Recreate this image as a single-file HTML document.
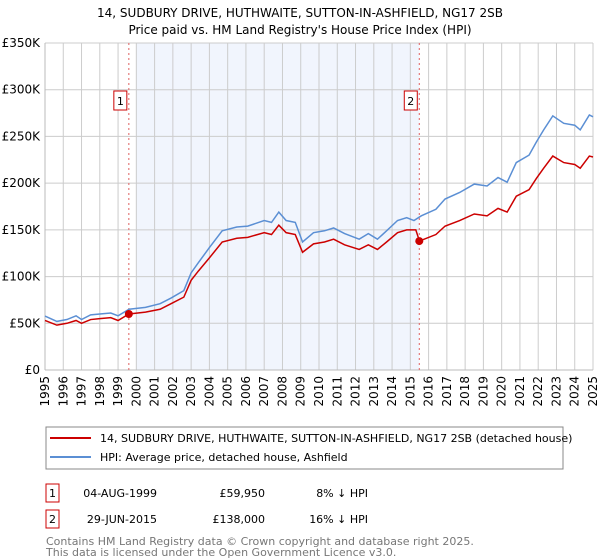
<!DOCTYPE html>
<html><head><meta charset="utf-8"><style>
body{margin:0;background:#fff;}
svg{display:block;font-family:"DejaVu Sans","Liberation Sans",sans-serif;}
</style></head><body>
<svg id="c" width="600" height="560" viewBox="0 0 600 560">
<text x="300" y="17" text-anchor="middle" font-size="12" fill="#000">14, SUDBURY DRIVE, HUTHWAITE, SUTTON-IN-ASHFIELD, NG17 2SB</text>
<text x="300" y="34" text-anchor="middle" font-size="12" fill="#000">Price paid vs. HM Land Registry's House Price Index (HPI)</text>
<g id="plot"></g>
<rect x="46" y="427" width="517" height="42" fill="#fff" stroke="#888"/>
<line x1="50" y1="438" x2="91" y2="438" stroke="#cc0000" stroke-width="2"/>
<text x="100" y="442" font-size="11">14, SUDBURY DRIVE, HUTHWAITE, SUTTON-IN-ASHFIELD, NG17 2SB (detached house)</text>
<line x1="50" y1="457" x2="91" y2="457" stroke="#5b8fd4" stroke-width="2"/>
<text x="100" y="461" font-size="11">HPI: Average price, detached house, Ashfield</text>
<g>
<rect x="46" y="484" width="13" height="18" fill="#fff" stroke="#cc0000"/>
<text x="52.5" y="497" text-anchor="middle" font-size="11">1</text>
<text x="157" y="497" text-anchor="end" font-size="11">04-AUG-1999</text>
<text x="265" y="497" text-anchor="end" font-size="11">£59,950</text>
<text x="368" y="497" text-anchor="end" font-size="11">8% ↓ HPI</text>
</g>
<g>
<rect x="46" y="510" width="13" height="18" fill="#fff" stroke="#cc0000"/>
<text x="52.5" y="523" text-anchor="middle" font-size="11">2</text>
<text x="157" y="523" text-anchor="end" font-size="11">29-JUN-2015</text>
<text x="265" y="523" text-anchor="end" font-size="11">£138,000</text>
<text x="368" y="523" text-anchor="end" font-size="11">16% ↓ HPI</text>
</g>
<text x="46" y="545" font-size="11" fill="#777">Contains HM Land Registry data © Crown copyright and database right 2025.</text>
<text x="46" y="556" font-size="11" fill="#777">This data is licensed under the Open Government Licence v3.0.</text>
</svg>
<script>
const dates=[1995.0,1995.65,1996.2,1996.7,1997.0,1997.5,1998.0,1998.6,1999.0,1999.6,2000.5,2001.3,2001.9,2002.6,2003.0,2003.4,2004.0,2004.7,2005.5,2006.1,2007.0,2007.4,2007.8,2008.2,2008.7,2009.1,2009.7,2010.3,2010.8,2011.4,2012.2,2012.7,2013.2,2013.7,2014.3,2014.8,2015.2,2015.6,2016.4,2016.9,2017.7,2018.5,2019.2,2019.8,2020.3,2020.8,2021.5,2021.9,2022.3,2022.8,2023.4,2024.0,2024.3,2024.8,2025.0];
const hpi=[57.7,52,54,58,54,59,60,61,58,65,67,71,77,85,104,115,131,149,153,154,160,158,169,160,158,137,147,149,152,146,140,146,140,149,160,163,160,165,172,183,190,199,197,206,201,222,230,244,257,272,264,262,257,273,271];
const priceDates=[1995.0,1995.65,1996.2,1996.7,1997.0,1997.5,1998.0,1998.6,1999.0,1999.6,2000.5,2001.3,2001.9,2002.6,2003.0,2003.4,2004.0,2004.7,2005.5,2006.1,2007.0,2007.4,2007.8,2008.2,2008.7,2009.1,2009.7,2010.3,2010.8,2011.4,2012.2,2012.7,2013.2,2013.7,2014.3,2014.8,2015.3,2015.5,2016.4,2016.9,2017.7,2018.5,2019.2,2019.8,2020.3,2020.8,2021.5,2021.9,2022.3,2022.8,2023.4,2024.0,2024.3,2024.8,2025.0];
const price=[53,48,50,53,50,54,55,56,53,60,62,65,71,78,96,106,120,137,141,142,147,145,155,147,145,126,135,137,140,134,129,134,129,137,147,150,150,138,145,154,160,167,165,173,169,186,193,205,216,229,222,220,216,229,228];
const saleDates=[1999.59,2015.49];
const saleValues=[59.95,138];
const yTicks=[0,50,100,150,200,250,300,350];
const yTickLabels=["£0","£50K","£100K","£150K","£200K","£250K","£300K","£350K"];
const years=[1995,1996,1997,1998,1999,2000,2001,2002,2003,2004,2005,2006,2007,2008,2009,2010,2011,2012,2013,2014,2015,2016,2017,2018,2019,2020,2021,2022,2023,2024,2025];
const shadeRange=[2000.0,2015.49];

const X0=45,X1=593,Y0=370,Y1=43;
const xs=d=>X0+(d-1995)/30*(X1-X0);
const ys=v=>Y0-v/350*(Y0-Y1);
const NS='http://www.w3.org/2000/svg';
const g=document.getElementById('plot');
function mk(t,a){const e=document.createElementNS(NS,t);for(const k in a)e.setAttribute(k,a[k]);g.appendChild(e);return e;}
let e;
e=mk('rect',{x:xs(shadeRange[0]),y:Y1,width:xs(shadeRange[1])-xs(shadeRange[0]),height:Y0-Y1,fill:'#eef3fd',opacity:0.8});


years.forEach(yr=>{
 e=mk('line',{x1:xs(yr),x2:xs(yr),y1:Y1,y2:Y0,stroke:'#ccc','stroke-width':1});
 
 
 e=mk('text',{x:0,y:0,'font-size':12,'text-anchor':'end',transform:`translate(${xs(yr)+4},${Y0+6}) rotate(-90)`});
 e.textContent=yr;
 
 
});
yTicks.forEach((v,i)=>{
 e=mk('line',{x1:X0,x2:X1,y1:ys(v),y2:ys(v),stroke:'#ccc','stroke-width':1});
 
 
 e=mk('text',{x:X0-5,y:ys(v)+4,'font-size':12,'text-anchor':'end'});
 e.textContent=yTickLabels[i];
 
 
});
e=mk('line',{x1:X0,x2:X0,y1:Y1,y2:Y0,stroke:'#bbb'});


e=mk('line',{x1:X0,x2:X1,y1:Y0,y2:Y0,stroke:'#bbb'});


saleDates.forEach((d,i)=>{
 e=mk('line',{x1:xs(d),x2:xs(d),y1:Y1,y2:Y0,stroke:'#e06060','stroke-width':1,'stroke-dasharray':'2,3'});
 
 
 e=mk('rect',{x:xs(d)-15,y:91,width:13,height:19,fill:'#fff',stroke:'#cc0000'});
 
 
 e=mk('text',{x:xs(d)-8.5,y:105,'font-size':11,'text-anchor':'middle'});
 e.textContent=String(i+1);
 
 
});
e=mk('polyline',{points:dates.map((d,i)=>xs(d)+','+ys(hpi[i])).join(' '),fill:'none',stroke:'#5b8fd4','stroke-width':1.5});


e=mk('polyline',{points:priceDates.map((d,i)=>xs(d)+','+ys(price[i])).join(' '),fill:'none',stroke:'#cc0000','stroke-width':1.5});


saleDates.forEach((d,i)=>{
 e=mk('circle',{cx:xs(d),cy:ys(saleValues[i]),r:4,fill:'#cc0000'});
 
 
});
</script>
</body></html>
